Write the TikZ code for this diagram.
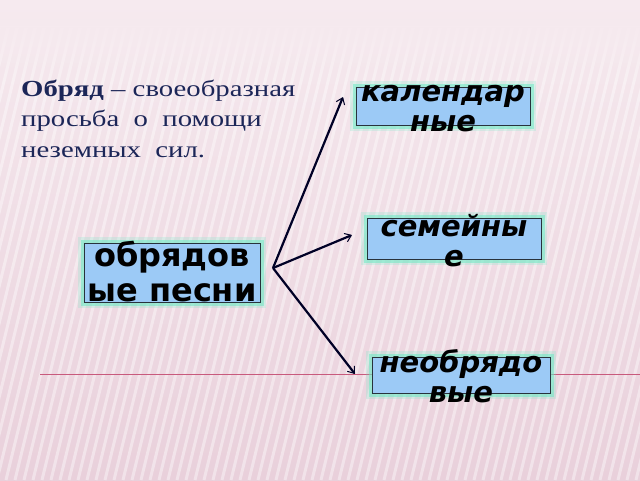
\documentclass[tikz,border=0pt]{standalone}
\usepackage{fontspec}
\setmainfont[FakeStretch=1.25]{Liberation Serif}
\newfontfamily\boxfont{DejaVu Sans}
\usetikzlibrary{arrows.meta,fadings}
\definecolor{bgtop}{RGB}{246,234,239}
\definecolor{bgbot}{RGB}{233,208,219}
\definecolor{navy}{RGB}{28,38,88}
\definecolor{boxblue}{RGB}{156,202,246}
\definecolor{boxedge}{RGB}{40,50,60}
\definecolor{glow}{RGB}{100,235,195}
\definecolor{redline}{RGB}{200,90,125}
\tikzset{
  glowbox/.style={draw=boxedge, fill=boxblue, line width=0.8pt,
    preaction={draw=glow, line width=12pt, opacity=0.2, rounded corners=4pt},
    preaction={draw=glow, line width=7pt, opacity=0.5, rounded corners=3pt}},
  itlabel/.style={font=\boxfont\bfseries\itshape\fontsize{29}{30}\selectfont,
    align=center, anchor=base, inner sep=0pt, text=black},
  uplabel/.style={font=\boxfont\bfseries\fontsize{32}{35}\selectfont,
    align=center, anchor=base, inner sep=0pt, text=black},
  branch/.style={line width=2.2pt, draw=black!85!blue, -{Straight Barb[length=6pt,width=9pt,line width=1pt]}},
  stripe/.style={white, opacity=0.4, line width=3pt}
}
\begin{document}
\begin{tikzpicture}[x=1pt,y=-1pt]
\useasboundingbox (0,0) rectangle (640,480);
\fill[top color=bgtop, bottom color=bgbot] (0,0) rectangle (640,480);
\begin{scope}
  \clip (0,28) rectangle (640,480);
  \foreach \x in {-120,-111,...,640} {
    \draw[stripe] (\x,480) -- (\x+110,28);
  }
\end{scope}
\fill[bgtop, path fading=south] (0,26) rectangle (640,80);
\draw[redline, line width=0.9pt] (40,374) -- (640,374);

% description text (base anchor = last line)
\node[anchor=base west, align=left, inner sep=0pt, text=navy,
  font=\fontsize{23}{30.5}\selectfont] (desc) at (21,157)
  {\textbf{Обряд} -- своеобразная\\просьба\ \ о\ \ помощи\\неземных\ \ сил.};

% boxes
\node[glowbox, minimum width=174pt, minimum height=38pt] (kal) at (443,106) {};
\node[glowbox, minimum width=174pt, minimum height=41pt] (sem) at (454,238.5) {};
\node[glowbox, minimum width=178pt, minimum height=36pt] (neo) at (461,375) {};
\node[glowbox, minimum width=176pt, minimum height=59pt] (obr) at (172,272.5) {};

% labels (base anchor = last line)
\node[itlabel] (kalt) at (443,131) {календар\\ные};
\node[itlabel] (semt) at (454,266) {семейны\\е};
\node[itlabel] (neot) at (461,402) {необрядо\\вые};
\node[uplabel] (obrt) at (172,301) {обрядов\\ые песни};

% connectors
\coordinate (fork) at (273,268);
\coordinate (tipk) at (343,97);
\coordinate (tips) at (352,235);
\coordinate (tipn) at (355,374);
\draw[branch] (fork) -- (tipk);
\draw[branch] (fork) -- (tips);
\draw[branch] (fork) -- (tipn);
\end{tikzpicture}
\end{document}
